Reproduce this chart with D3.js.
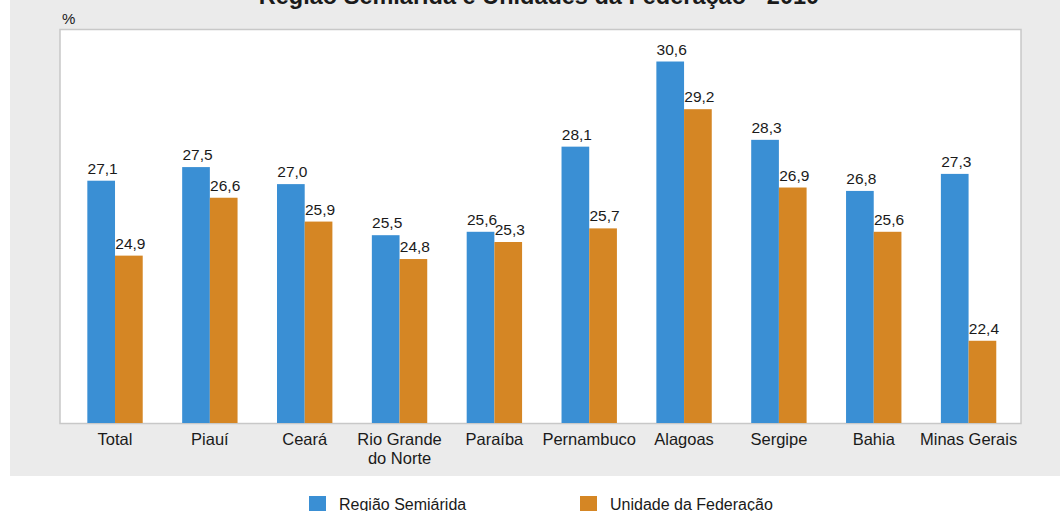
<!DOCTYPE html>
<html>
<head>
<meta charset="utf-8">
<script src="https://cdn.jsdelivr.net/npm/d3@7"></script>
<style>
  html, body { margin: 0; padding: 0; background: #ffffff; }
  svg { display: block; }
  text { font-family: "Liberation Sans", Arial, sans-serif; fill: #1a1a1a; }
</style>
</head>
<body>
<svg id="chart" width="1060" height="511"></svg>
<script>
// Categories (x axis), line breaks marked with "\n"
const categories = ["Total", "Piauí", "Ceará", "Rio Grande\ndo Norte", "Paraíba",
                    "Pernambuco", "Alagoas", "Sergipe", "Bahia", "Minas Gerais"];
// Series values (%)
const semiarida = [27.1, 27.5, 27.0, 25.5, 25.6, 28.1, 30.6, 28.3, 26.8, 27.3];
const unidadeFederacao = [24.9, 26.6, 25.9, 24.8, 25.3, 25.7, 29.2, 26.9, 25.6, 22.4];
const seriesNames = ["Região Semiárida", "Unidade da Federação"];
const seriesColors = ["#3a8fd4", "#d58624"];
const titleText = "Região Semiárida e Unidades da Federação - 2010";
const unitLabel = "%";

const svg = d3.select("#chart");

// Grey panel behind the plot
svg.append("rect")
  .attr("x", 10).attr("y", -20)
  .attr("width", 1050).attr("height", 496)
  .attr("fill", "#ebebeb");

// Title
svg.append("text")
  .attr("x", 539).attr("y", 4)
  .attr("text-anchor", "middle")
  .attr("font-size", 23.5).attr("font-weight", "bold")
  .text(titleText);

// Plot frame
const plot = { left: 60, right: 1021, top: 29.5, bottom: 423.5 };
svg.append("rect")
  .attr("x", plot.left).attr("y", plot.top)
  .attr("width", plot.right - plot.left).attr("height", plot.bottom - plot.top)
  .attr("fill", "#ffffff")
  .attr("stroke", "#c8c8c8").attr("stroke-width", 1.5);

svg.append("text")
  .attr("x", 62).attr("y", 24)
  .attr("font-size", 15)
  .text(unitLabel);

// Scales
const x0 = d3.scaleBand()
  .domain(categories)
  .range([67.6, 1016])
  .paddingInner(0.416)
  .paddingOuter(0.208);

const x1 = d3.scaleBand()
  .domain(seriesNames)
  .range([0, x0.bandwidth()]);

const y = d3.scaleLinear()
  .domain([20, 31.54])
  .range([422.5, 29.5]);

const rows = categories.map((c, i) => ({
  cat: c,
  vals: [
    { s: seriesNames[0], v: semiarida[i], color: seriesColors[0] },
    { s: seriesNames[1], v: unidadeFederacao[i], color: seriesColors[1] }
  ]
}));

const groups = svg.append("g").selectAll("g")
  .data(rows).join("g")
  .attr("transform", d => `translate(${x0(d.cat)},0)`);

groups.selectAll("rect")
  .data(d => d.vals).join("rect")
  .attr("x", d => x1(d.s))
  .attr("width", x1.bandwidth())
  .attr("y", d => y(d.v))
  .attr("height", d => y.range()[0] - y(d.v) + 0.5)
  .attr("fill", d => d.color);

// Value labels
const fmt = v => v.toFixed(1).replace(".", ",");
groups.selectAll("text.val")
  .data(d => d.vals).join("text")
  .attr("class", "val")
  .attr("x", d => x1(d.s) + x1.bandwidth() / 2 + 1.5)
  .attr("y", d => y(d.v) - 7)
  .attr("text-anchor", "middle")
  .attr("font-size", 15.5)
  .text(d => fmt(d.v));

// X axis labels
const xAxis = d3.axisBottom(x0).tickSize(0).tickPadding(0);
const axisG = svg.append("g")
  .attr("transform", `translate(0,${plot.bottom})`)
  .call(xAxis);
axisG.select(".domain").remove();
axisG.selectAll(".tick text").each(function(d) {
  const t = d3.select(this);
  t.text(null)
    .attr("font-size", 16.5)
    .attr("fill", "#1a1a1a")
    .attr("font-family", "Liberation Sans, Arial, sans-serif")
    .attr("dy", null)
    .attr("y", null);
  d.split("\n").forEach((line, i) => {
    t.append("tspan")
      .attr("x", 0)
      .attr("y", 21 + i * 19)
      .text(line);
  });
});

// Legend
const legendItems = [
  { name: seriesNames[0], color: seriesColors[0], x: 309 },
  { name: seriesNames[1], color: seriesColors[1], x: 580 }
];
const legend = svg.append("g").selectAll("g")
  .data(legendItems).join("g")
  .attr("transform", d => `translate(${d.x},496)`);
legend.append("rect")
  .attr("width", 17).attr("height", 17)
  .attr("fill", d => d.color);
legend.append("text")
  .attr("x", 30).attr("y", 14)
  .attr("font-size", 16)
  .text(d => d.name);
</script>
</body>
</html>
